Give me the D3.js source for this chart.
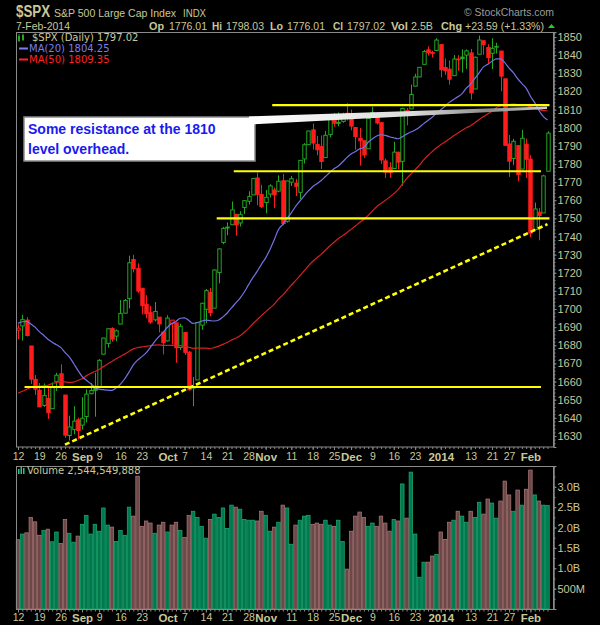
<!DOCTYPE html>
<html>
<head>
<meta charset="utf-8">
<script src="https://cdnjs.cloudflare.com/ajax/libs/d3/7.8.5/d3.min.js"></script>
<style>
  body { margin: 0; background: #000; }
  svg { display: block; }
</style>
</head>
<body>
<div id="chart"></div>
<script>
// daily bars, 12-Aug-2013 .. 7-Feb-2014
const dates = [
  '2013-08-12','2013-08-13','2013-08-14','2013-08-15','2013-08-16',
  '2013-08-19','2013-08-20','2013-08-21','2013-08-22','2013-08-23',
  '2013-08-26','2013-08-27','2013-08-28','2013-08-29','2013-08-30',
  '2013-09-03','2013-09-04','2013-09-05','2013-09-06',
  '2013-09-09','2013-09-10','2013-09-11','2013-09-12','2013-09-13',
  '2013-09-16','2013-09-17','2013-09-18','2013-09-19','2013-09-20',
  '2013-09-23','2013-09-24','2013-09-25','2013-09-26','2013-09-27',
  '2013-09-30','2013-10-01','2013-10-02','2013-10-03','2013-10-04',
  '2013-10-07','2013-10-08','2013-10-09','2013-10-10','2013-10-11',
  '2013-10-14','2013-10-15','2013-10-16','2013-10-17','2013-10-18',
  '2013-10-21','2013-10-22','2013-10-23','2013-10-24','2013-10-25',
  '2013-10-28','2013-10-29','2013-10-30','2013-10-31','2013-11-01',
  '2013-11-04','2013-11-05','2013-11-06','2013-11-07','2013-11-08',
  '2013-11-11','2013-11-12','2013-11-13','2013-11-14','2013-11-15',
  '2013-11-18','2013-11-19','2013-11-20','2013-11-21','2013-11-22',
  '2013-11-25','2013-11-26','2013-11-27','2013-11-29',
  '2013-12-02','2013-12-03','2013-12-04','2013-12-05','2013-12-06',
  '2013-12-09','2013-12-10','2013-12-11','2013-12-12','2013-12-13',
  '2013-12-16','2013-12-17','2013-12-18','2013-12-19','2013-12-20',
  '2013-12-23','2013-12-24','2013-12-26','2013-12-27',
  '2013-12-30','2013-12-31','2014-01-02','2014-01-03',
  '2014-01-06','2014-01-07','2014-01-08','2014-01-09','2014-01-10',
  '2014-01-13','2014-01-14','2014-01-15','2014-01-16','2014-01-17',
  '2014-01-21','2014-01-22','2014-01-23','2014-01-24',
  '2014-01-27','2014-01-28','2014-01-29','2014-01-30','2014-01-31',
  '2014-02-03','2014-02-04','2014-02-05','2014-02-06','2014-02-07'
]
const opens = [
  1688.37,1690.65,1693.88,1679.61,1661.22,1655.25,1646.81,1650.66,1645.03,1659.92,
  1664.29,1652.54,1630.25,1633.50,1638.89,1635.95,1640.72,1653.28,1657.44,1656.85,
  1675.11,1681.04,1689.21,1685.04,1691.70,1697.73,1705.74,1727.34,1722.44,1711.44,
  1702.60,1698.02,1694.05,1695.52,1687.26,1682.41,1691.90,1692.35,1678.79,1687.15,
  1676.22,1656.99,1660.88,1691.09,1699.86,1709.17,1700.49,1720.17,1736.72,1745.20,
  1746.48,1752.27,1747.48,1756.01,1759.42,1762.93,1772.27,1763.24,1758.70,1763.40,
  1765.67,1765.00,1770.74,1748.37,1769.96,1769.51,1764.37,1782.75,1790.66,1798.82,
  1790.79,1789.59,1783.52,1796.19,1806.33,1802.87,1803.48,1808.01,1806.55,1800.10,
  1794.15,1792.82,1788.36,1806.21,1807.60,1802.76,1781.71,1777.98,1777.48,1786.47,
  1781.46,1809.00,1810.39,1822.92,1828.02,1834.96,1842.97,1841.47,1842.61,1845.86,
  1833.21,1832.31,1828.71,1837.90,1839.00,1840.06,1841.26,1821.36,1840.52,1847.99,
  1844.23,1841.05,1844.71,1842.29,1826.96,1791.03,1783.00,1790.15,1777.17,1790.88,
  1782.68,1743.82,1753.38,1752.99,1776.01
]
const highs = [
  1691.49,1696.81,1695.52,1679.61,1663.60,1659.18,1658.92,1656.99,1659.55,1664.85,
  1669.51,1652.54,1641.18,1646.41,1640.08,1651.35,1655.72,1659.17,1664.83,1672.40,
  1684.09,1689.13,1689.97,1688.73,1704.95,1705.52,1729.44,1729.86,1725.23,1711.44,
  1707.63,1701.71,1703.85,1695.52,1687.26,1696.55,1693.87,1692.35,1691.94,1687.15,
  1676.79,1662.47,1692.56,1703.44,1711.03,1711.57,1721.76,1733.45,1745.31,1747.79,
  1759.33,1752.27,1753.94,1759.82,1764.99,1772.09,1775.22,1768.53,1765.67,1768.78,
  1767.03,1773.74,1774.54,1770.78,1773.44,1771.78,1782.00,1791.53,1798.22,1802.33,
  1795.51,1795.73,1798.22,1804.84,1808.10,1808.42,1808.27,1813.55,1810.02,1800.10,
  1799.80,1792.82,1806.04,1811.52,1808.52,1802.97,1782.99,1780.92,1792.22,1786.77,
  1811.08,1810.88,1823.75,1829.75,1833.32,1842.84,1844.89,1842.47,1849.44,1845.86,
  1838.24,1837.16,1840.10,1840.02,1843.23,1843.15,1843.45,1839.26,1850.84,1847.99,
  1846.04,1849.31,1846.87,1842.29,1826.96,1795.98,1793.87,1790.15,1798.77,1793.88,
  1784.83,1758.73,1755.79,1774.06,1798.03
]
const lows = [
  1683.35,1682.62,1684.83,1658.59,1652.61,1646.06,1646.08,1639.43,1645.03,1654.81,
  1656.02,1629.05,1627.47,1630.88,1628.05,1633.41,1637.41,1653.07,1640.62,1656.85,
  1675.11,1678.70,1681.96,1682.22,1691.70,1697.73,1700.35,1720.20,1708.89,1697.10,
  1694.90,1691.88,1693.11,1687.11,1674.99,1682.07,1680.34,1670.36,1677.33,1674.70,
  1655.03,1646.47,1660.88,1688.52,1692.13,1695.93,1700.49,1714.12,1735.74,1740.67,
  1746.48,1740.50,1745.50,1752.45,1757.67,1762.93,1757.24,1755.72,1752.70,1761.56,
  1755.76,1764.40,1746.20,1747.63,1767.85,1762.29,1760.64,1780.22,1790.66,1788.00,
  1784.72,1777.23,1783.52,1794.70,1800.58,1800.77,1802.77,1803.98,1798.60,1787.85,
  1779.09,1783.38,1788.36,1806.21,1801.75,1780.09,1772.28,1772.45,1777.48,1777.05,
  1767.99,1801.35,1810.25,1822.92,1828.02,1834.96,1839.81,1838.77,1842.41,1827.74,
  1829.13,1823.73,1828.71,1831.40,1830.38,1832.43,1815.52,1821.36,1840.52,1840.30,
  1835.23,1832.38,1840.88,1820.06,1790.29,1772.88,1779.49,1770.45,1777.17,1772.26,
  1739.66,1743.82,1737.92,1752.99,1776.01
]
const closes = [
  1689.47,1694.16,1685.39,1661.32,1655.83,1646.06,1652.35,1642.80,1656.96,1663.50,
  1656.78,1630.48,1634.96,1638.17,1632.97,1639.77,1653.08,1655.08,1655.17,1671.71,
  1683.99,1689.13,1683.42,1687.99,1697.60,1704.76,1725.52,1722.34,1709.91,1701.84,
  1697.42,1692.77,1698.67,1691.75,1681.55,1695.00,1693.87,1678.66,1690.50,1676.12,
  1655.45,1656.40,1692.56,1703.20,1710.14,1698.06,1721.54,1733.15,1744.50,1744.66,
  1754.67,1746.38,1752.07,1759.77,1762.11,1771.95,1763.31,1756.54,1761.64,1767.93,
  1762.97,1770.49,1747.15,1770.61,1771.89,1767.69,1782.00,1790.62,1798.18,1791.53,
  1787.87,1781.37,1795.85,1804.76,1802.48,1802.75,1807.23,1805.81,1800.90,1795.15,
  1792.81,1785.03,1805.09,1808.37,1802.62,1782.22,1775.50,1775.32,1786.54,1781.00,
  1810.65,1809.60,1818.32,1827.99,1833.32,1842.02,1841.40,1841.07,1848.36,1831.98,
  1831.37,1826.77,1837.88,1837.49,1838.13,1842.37,1819.20,1838.88,1848.38,1845.89,
  1838.70,1843.80,1844.86,1828.46,1790.29,1781.56,1792.50,1774.20,1794.19,1782.59,
  1741.89,1755.20,1751.64,1773.43,1797.02
]
// closes before the first bar (Jun 3 .. Aug 9, 2013), needed for the moving averages
const priorCloses = [
  1640.42,1631.38,1608.90,1622.56,1643.38,1642.81,1626.13,1612.52,1636.36,1626.73,
  1639.04,1651.81,1628.93,1588.19,1592.43,1573.09,1588.03,1603.26,1613.20,1606.28,
  1614.96,1614.08,1615.41,1631.89,1640.46,1652.32,1652.62,1675.02,1680.19,1682.50,
  1676.26,1680.91,1689.37,1692.09,1695.53,1692.39,1685.94,1690.25,1691.65,1685.33,
  1685.96,1685.73,1706.87,1709.67,1707.14,1697.37,1690.91,1697.48,1691.42
]
// volume, millions of shares
const volumes = [
  1700,1840,1870,2250,2140,1810,1930,1960,1650,1890,1610,2200,1860,1640,1790,2080,2300,1840,2080,1910,
  2480,2060,2010,1660,1930,1810,2500,2280,3260,2030,2160,2110,1860,2060,2130,1890,2060,2130,1930,1760,
  2300,2400,2250,2030,1740,2200,2330,2250,2480,1980,2550,2500,2450,2200,2180,2180,2160,2400,2300,1910,
  2010,2130,2550,2480,1590,2060,2180,2280,2300,2080,2110,2080,2180,2060,2030,2180,1660,980,1910,2280,
  2380,2250,2030,2110,2030,2280,2110,1910,2200,2160,3070,2230,3360,1840,780,1150,1150,1300,1340,1890,
  1710,2130,2180,2400,2280,2130,2400,2250,2620,2330,2700,2600,2230,2650,3140,2800,2400,2920,2550,2940,
  3410,2800,2650,2550,2545
]

const tickDates = ['2013-08-12','2013-08-19','2013-08-26','2013-09-03','2013-09-09','2013-09-16','2013-09-23',
  '2013-10-01','2013-10-07','2013-10-14','2013-10-21','2013-10-28','2013-11-01','2013-11-11','2013-11-18',
  '2013-11-25','2013-12-02','2013-12-09','2013-12-16','2013-12-23','2014-01-02','2014-01-13','2014-01-21',
  '2014-01-27','2014-02-03']
const tickLabels = ['12','19','26','Sep','9','16','23','Oct','7','14','21','28','Nov','11','18','25','Dec',
  '9','16','23','2014','13','21','27','Feb']
const boldLabels = ['Sep','Oct','Nov','Dec','2014','Feb']
const priceTicks = [1630,1640,1650,1660,1670,1680,1690,1700,1710,1720,1730,1740,1750,
  1760,1770,1780,1790,1800,1810,1820,1830,1840,1850]
const volumeTicks = [500,1000,1500,2000,2500,3000]

// drawn support / resistance lines: level, first bar, last bar
const levelPrices = [1812.5, 1776, 1750, 1657]
const levelFrom = ['2013-11-05','2013-10-23','2013-10-17','2013-08-14']
const levelTo = ['2014-02-07','2014-02-05','2014-02-07','2014-02-05']
// dashed trend line: two anchor points
const trendDates = ['2013-08-27','2014-02-07']
const trendPrices = [1625.2, 1746.8]

const noteLines = ['Some resistance at the 1810', 'level overhead.']

const width = 600, height = 625
const tan = '#c8c89a'
const up = '#22a822', down = '#ff1c1c'
const sans = '"Liberation Sans", Arial, sans-serif'

const svg = d3.select('#chart').append('svg').attr('width', width).attr('height', height)
svg.append('rect').attr('width', width).attr('height', height).attr('fill', '#000')

const n = closes.length
const x = d3.scaleLinear().domain([0, n - 1]).range([18, 547.5])
const y = d3.scaleLinear().domain([1623.9, 1852.8]).range([447, 32])
const yv = d3.scaleLinear().domain([0, 3510]).range([609, 466])
const idx = d => dates.indexOf(d)
const cx = i => Math.round(x(i)) + 0.5

// header: text, x, width, baseline, font, colour
const header = [
  ['$SPX', 16, 34, 17, 'bold 16px', tan],
  ['S&P 500 Large Cap Index', 54, 122, 16.5, '11px', tan],
  ['INDX', 183, 23, 16.5, '11px', tan],
  ['© StockCharts.com', 464, 90, 16, '11.5px', '#9c9c9c'],
  ['7-Feb-2014', 16, 54, 30, '10.5px', tan],
  ['Op', 149, 15, 30, 'bold 11px', tan],
  ['1776.01', 169, 38, 30, '10.5px', tan],
  ['Hi', 212, 10, 30, 'bold 11px', tan],
  ['1798.03', 226, 38, 30, '10.5px', tan],
  ['Lo', 270, 13, 30, 'bold 11px', tan],
  ['1776.01', 287, 38, 30, '10.5px', tan],
  ['Cl', 333, 10, 30, 'bold 11px', tan],
  ['1797.02', 347, 38, 30, '10.5px', tan],
  ['Vol', 391, 17, 30, 'bold 11px', tan],
  ['2.5B', 411, 22, 30, '10.5px', tan],
  ['Chg', 441, 21, 30, 'bold 11px', tan],
  ['+23.59 (+1.33%)', 465, 79, 30, '10.5px', tan]
]
header.forEach(h => {
  svg.append('text').attr('x', h[1]).attr('y', h[3]).attr('fill', h[5])
    .attr('textLength', h[2]).attr('lengthAdjust', 'spacingAndGlyphs')
    .style('font', `${h[4]} ${sans}`).text(h[0])
})
svg.append('path').attr('d', 'M548,28 L551.5,24 L555,28 Z').attr('fill', '#22cc22')

// panels
const main = svg.append('g')
const vol = svg.append('g')

// candles (StockCharts style: colour vs previous close, hollow when close > open)
const prevClose = i => i === 0 ? priorCloses[priorCloses.length - 1] : closes[i - 1]
const colorOf = i => closes[i] >= prevClose(i) ? up : down

const cg = main.selectAll('g.candle').data(d3.range(n)).enter().append('g').attr('class', 'candle')
cg.append('line')
  .attr('x1', cx).attr('x2', cx)
  .attr('y1', i => y(highs[i])).attr('y2', i => y(lows[i]))
  .attr('stroke', colorOf).attr('stroke-width', 1)
cg.append('rect')
  .attr('x', i => cx(i) - 1.7).attr('width', 3.4)
  .attr('y', i => y(Math.max(opens[i], closes[i])))
  .attr('height', i => Math.max(0.8, Math.abs(y(opens[i]) - y(closes[i]))))
  .attr('fill', i => closes[i] < opens[i] ? colorOf(i) : '#000')
  .attr('stroke', colorOf).attr('stroke-width', 1)

// moving averages
const all = priorCloses.concat(closes)
const sma = len => d3.range(n).map(i => {
  const end = i + priorCloses.length
  return d3.mean(all.slice(end - len + 1, end + 1))
})
const ma20 = sma(20), ma50 = sma(50)
const maLine = d3.line().x((d, i) => x(i)).y(d => y(d)).curve(d3.curveMonotoneX)
main.append('path').attr('d', maLine(ma50)).attr('fill', 'none').attr('stroke', '#d42020').attr('stroke-width', 1.2)
main.append('path').attr('d', maLine(ma20)).attr('fill', 'none').attr('stroke', '#7272e6').attr('stroke-width', 1.2)

// support / resistance lines
levelPrices.forEach((p, k) => {
  main.append('line')
    .attr('x1', x(idx(levelFrom[k])) - 2).attr('x2', x(idx(levelTo[k])) + 2)
    .attr('y1', y(p)).attr('y2', y(p))
    .attr('stroke', '#ffff00').attr('stroke-width', 2.2)
})
main.append('line')
  .attr('x1', x(idx(trendDates[0]))).attr('y1', y(trendPrices[0]))
  .attr('x2', x(idx(trendDates[1]))).attr('y2', y(trendPrices[1]))
  .attr('stroke', '#ffff00').attr('stroke-width', 2.6).attr('stroke-dasharray', '5,3')

// note box with pointer
const defs = svg.append('defs')
const grad = defs.append('linearGradient').attr('id', 'ptr').attr('x1', '0').attr('x2', '1').attr('y1', '0').attr('y2', '0')
grad.append('stop').attr('offset', '0').attr('stop-color', '#ffffff')
grad.append('stop').attr('offset', '0.55').attr('stop-color', '#dcdcdc')
grad.append('stop').attr('offset', '0.8').attr('stop-color', '#8c8c8c')
grad.append('stop').attr('offset', '1').attr('stop-color', '#cfcfcf')
main.append('rect').attr('x', 24).attr('y', 117).attr('width', 231).attr('height', 44)
  .attr('fill', '#fff').attr('stroke', '#8a8a8a').attr('stroke-width', 1.5)
main.append('path').attr('d', 'M249,116.5 L547,106.5 L547,109 L249,124.5 Z').attr('fill', 'url(#ptr)')
noteLines.forEach((t, k) => {
  main.append('text').attr('x', 28).attr('y', 134 + k * 20).attr('fill', '#1a1af0')
    .style('font', `bold 14px ${sans}`).text(t)
})

// main panel frame and axes
main.append('rect').attr('x', 16.5).attr('y', 32.5).attr('width', 537).attr('height', 414.5)
  .attr('fill', 'none').attr('stroke', '#8a8a8a')
const styleAxis = g => {
  g.select('.domain').attr('stroke', '#8a8a8a')
  g.selectAll('.tick line').attr('stroke', '#8a8a8a')
  g.selectAll('.tick text').attr('fill', tan).style('font', `11px ${sans}`)
}
main.append('g').attr('transform', 'translate(553.5,0)')
  .call(d3.axisRight(y).tickValues(d3.range(1626, 1853, 2)).tickSize(2).tickFormat(''))
  .call(styleAxis)
main.append('g').attr('transform', 'translate(553.5,0)')
  .call(d3.axisRight(y).tickValues(priceTicks).tickSize(3).tickPadding(1).tickFormat(d3.format('d')))
  .call(styleAxis)

const dayAxis = (g, yPos) => g.append('g').attr('transform', `translate(0,${yPos})`)
  .call(d3.axisBottom(x).tickValues(d3.range(n)).tickSize(2).tickFormat(''))
  .call(styleAxis).call(a => a.select('.domain').remove())
const labelAxis = (g, yPos, pad) => g.append('g').attr('transform', `translate(0,${yPos})`)
  .call(d3.axisBottom(x).tickValues(tickDates.map(idx)).tickSize(3).tickPadding(pad)
    .tickFormat((d, i) => tickLabels[i]))
  .call(styleAxis).call(a => a.select('.domain').remove())
  .call(a => a.selectAll('.tick text')
    .style('font-weight', (d, i) => boldLabels.includes(tickLabels[i]) ? 'bold' : 'normal')
    .style('font-size', (d, i) => boldLabels.includes(tickLabels[i]) ? '11.5px' : '10.5px'))
dayAxis(main, 447)
labelAxis(main, 447, 3)

// legend
main.append('rect').attr('x', 18).attr('y', 36).attr('width', 2).attr('height', 5).attr('fill', up)
main.append('rect').attr('x', 22).attr('y', 35).attr('width', 2).attr('height', 5).attr('fill', up)
main.append('line').attr('x1', 19).attr('x2', 19).attr('y1', 34).attr('y2', 42).attr('stroke', up)
main.append('line').attr('x1', 23).attr('x2', 23).attr('y1', 33.5).attr('y2', 41).attr('stroke', up)
main.append('text').attr('x', 32).attr('y', 41).attr('fill', tan)
  .style('font', '10px "DejaVu Sans", sans-serif').text('$SPX (Daily) 1797.02')
const maLegend = [['MA(20) 1804.25', '#7c7cf0', 52], ['MA(50) 1809.35', '#ff2222', 63]]
maLegend.forEach(m => {
  main.append('line').attr('x1', 19).attr('x2', 28).attr('y1', m[2] - 3.5).attr('y2', m[2] - 3.5)
    .attr('stroke', m[1]).attr('stroke-width', 2)
  main.append('text').attr('x', 29).attr('y', m[2]).attr('fill', m[1])
    .style('font', '10px "DejaVu Sans", sans-serif').text(m[0])
})

// volume
const vUp = i => closes[i] >= prevClose(i)
vol.selectAll('rect.v').data(d3.range(n)).enter().append('rect').attr('class', 'v')
  .attr('x', i => x(i) - 1.75).attr('width', 3.5)
  .attr('y', i => yv(volumes[i])).attr('height', i => yv(0) - yv(volumes[i]))
  .attr('fill', i => vUp(i) ? '#007850' : '#6c4848')
  .attr('stroke', i => vUp(i) ? '#1fae72' : '#b07a7a').attr('stroke-width', 0.7)
vol.append('rect').attr('x', 16.5).attr('y', 466.5).attr('width', 537).attr('height', 143)
  .attr('fill', 'none').attr('stroke', '#8a8a8a')
vol.append('g').attr('transform', 'translate(553.5,0)')
  .call(d3.axisRight(yv).tickValues(d3.range(250, 3501, 250)).tickSize(2).tickFormat(''))
  .call(styleAxis)
vol.append('g').attr('transform', 'translate(553.5,0)')
  .call(d3.axisRight(yv).tickValues(volumeTicks).tickSize(3).tickPadding(1)
    .tickFormat(v => v >= 1000 ? (v / 1000).toFixed(1) + 'B' : v + 'M'))
  .call(styleAxis)
dayAxis(vol, 609.5)
labelAxis(vol, 609.5, 1.5)
vol.append('rect').attr('x', 18).attr('y', 469).attr('width', 1.5).attr('height', 5).attr('fill', '#2cc484')
vol.append('rect').attr('x', 20.5).attr('y', 467).attr('width', 1.5).attr('height', 7).attr('fill', '#2cc484')
vol.append('rect').attr('x', 23).attr('y', 468).attr('width', 1.5).attr('height', 6).attr('fill', '#2cc484')
vol.append('text').attr('x', 27).attr('y', 474).attr('fill', tan)
  .style('font', '10px "DejaVu Sans", sans-serif').text('Volume 2,544,549,888')
</script>
</body>
</html>
